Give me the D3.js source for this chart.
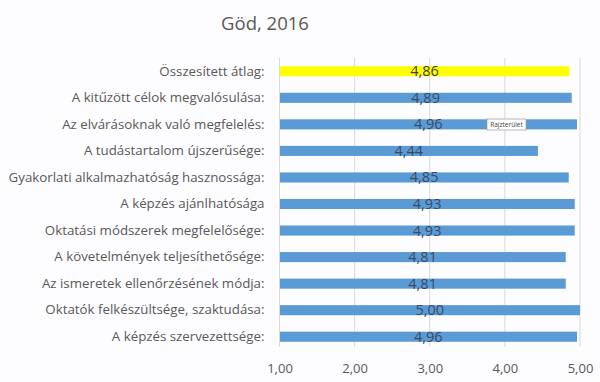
<!DOCTYPE html>
<html><head><meta charset="utf-8">
<script src="https://cdn.jsdelivr.net/npm/d3@7"></script>
<style>
html,body{margin:0;padding:0;background:#fdfcfe;}
svg{display:block;font-family:"Open Sans","Noto Sans",sans-serif;}
</style></head>
<body>
<svg id="c" width="600" height="382"></svg>
<script>
const categories = [
  "Összesített átlag:",
  "A kitűzött célok megvalósulása:",
  "Az elvárásoknak való megfelelés:",
  "A tudástartalom újszerűsége:",
  "Gyakorlati alkalmazhatóság hasznossága:",
  "A képzés ajánlhatósága",
  "Oktatási módszerek megfelelősége:",
  "A követelmények teljesíthetősége:",
  "Az ismeretek ellenőrzésének módja:",
  "Oktatók felkészültsége, szaktudása:",
  "A képzés szervezettsége:"
];
const values = [4.86, 4.89, 4.96, 4.44, 4.85, 4.93, 4.93, 4.81, 4.81, 5.00, 4.96];
const xTicks = [1, 2, 3, 4, 5];
const title = "Göd, 2016";

const svg = d3.select("#c");
const x = d3.scaleLinear().domain([1, 5]).range([279.5, 580]);
const y = d3.scaleBand().domain(categories).range([58, 350]).paddingInner(0.62).paddingOuter(0.31);
const fmt = v => d3.format(".2f")(v).replace(".", ",");

svg.append("text").attr("x", 265).attr("y", 30).attr("text-anchor", "middle")
  .attr("font-size", 18.5).attr("fill", "#595959").text(title);

// gridlines
svg.append("g").selectAll("line").data(xTicks.slice(1)).join("line")
  .attr("x1", d => x(d)).attr("x2", d => x(d)).attr("y1", 58).attr("y2", 347)
  .attr("stroke", "#d9d9d9").attr("stroke-width", 1);

// x axis labels
const xa = svg.append("g").attr("transform", "translate(0,347)")
  .call(d3.axisBottom(x).tickValues(xTicks).tickFormat(fmt).tickSize(0).tickPadding(17));
xa.select(".domain").remove();
xa.selectAll("text").attr("font-size", 13).attr("fill", "#595959").attr("font-family", "Open Sans, Noto Sans, sans-serif");

// bars
svg.append("g").selectAll("rect").data(values).join("rect")
  .attr("x", x(1)).attr("y", (d, i) => y(categories[i]))
  .attr("width", d => x(d) - x(1)).attr("height", y.bandwidth())
  .attr("fill", (d, i) => i === 0 ? "#ffff00" : "#5b9bd5");

// left axis line
svg.append("line").attr("x1", x(1)).attr("x2", x(1)).attr("y1", 58).attr("y2", 347)
  .attr("stroke", "#d9d9d9");

// category labels
const ya = svg.append("g").attr("transform", "translate(" + x(1) + ",0)")
  .call(d3.axisLeft(y).tickSize(0).tickPadding(15));
ya.select(".domain").remove();
ya.selectAll("text").attr("font-size", 13.3).attr("fill", "#595959").attr("font-family", "Open Sans, Noto Sans, sans-serif");

// data labels
svg.append("g").selectAll("text").data(values).join("text")
  .attr("x", d => (x(1) + x(d)) / 2)
  .attr("y", (d, i) => y(categories[i]) + y.bandwidth() / 2 + 5)
  .attr("text-anchor", "middle").attr("font-size", 14.5)
  .attr("fill", (d, i) => i === 0 ? "#404040" : "#3a4a64")
  .text(fmt);

// tooltip
const tip = svg.append("g").attr("transform", "translate(487,119)");
tip.append("rect").attr("width", 39).attr("height", 11).attr("fill", "#ffffff").attr("stroke", "#9a9a9a").attr("stroke-width", 0.7);
tip.append("text").attr("x", 19.5).attr("y", 8).attr("text-anchor", "middle").attr("font-size", 6.5).attr("fill", "#444").text("Rajzterület");
</script>
</body></html>
